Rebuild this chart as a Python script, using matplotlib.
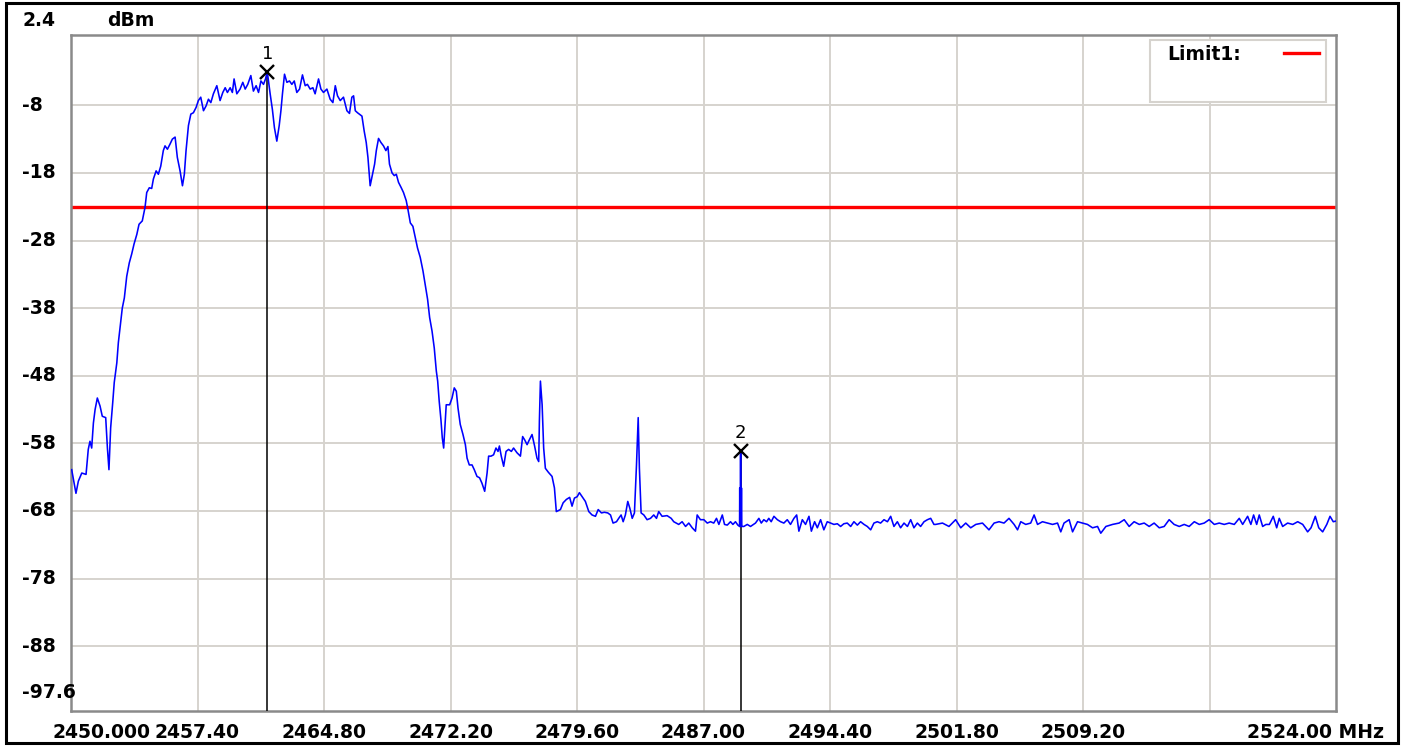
import matplotlib
matplotlib.use("Agg")
import matplotlib.pyplot as plt
import matplotlib.transforms as mtransforms
from matplotlib.patches import Rectangle
from matplotlib.lines import Line2D

# ---- sweep data: frequency (MHz) and level (dBm) ----
lobe_mhz = [
    2450.04, 2450.29, 2450.43, 2450.63, 2450.88, 2451.01, 2451.11, 2451.21, 2451.31, 2451.41,
    2451.54, 2451.70, 2451.83, 2452.03, 2452.13, 2452.22, 2452.32, 2452.44, 2452.53, 2452.68,
    2452.77, 2452.87, 2453.00, 2453.12, 2453.26, 2453.41, 2453.55, 2453.69, 2453.85, 2453.98,
    2454.17, 2454.33, 2454.43, 2454.58, 2454.72, 2454.82, 2454.98, 2455.11, 2455.25, 2455.40,
    2455.50, 2455.64, 2455.80, 2455.93, 2456.09, 2456.22, 2456.38, 2456.52, 2456.63, 2456.73,
    2456.87, 2457.01, 2457.16, 2457.32, 2457.45, 2457.59, 2457.75, 2457.90, 2458.04, 2458.18,
    2458.33, 2458.53, 2458.72, 2458.88, 2459.02, 2459.15, 2459.31, 2459.44, 2459.54, 2459.70,
    2459.89, 2460.05, 2460.19, 2460.34, 2460.52, 2460.67, 2460.83, 2460.97, 2461.11, 2461.26,
    2461.38, 2461.48, 2461.65, 2461.78, 2461.90, 2462.04, 2462.18, 2462.28, 2462.37, 2462.49,
    2462.63, 2462.78, 2462.92, 2463.06, 2463.21, 2463.37, 2463.54, 2463.70, 2463.83, 2463.99,
    2464.15, 2464.28, 2464.48, 2464.62, 2464.77, 2464.97, 2465.16, 2465.32, 2465.46, 2465.59,
    2465.75, 2465.94, 2466.14, 2466.29, 2466.43, 2466.53, 2466.63, 2466.76, 2467.02, 2467.15,
    2467.27, 2467.37, 2467.50, 2467.64, 2467.76, 2467.86, 2467.99, 2468.13, 2468.28, 2468.42,
    2468.54, 2468.63, 2468.78, 2468.91, 2469.03, 2469.16, 2469.32, 2469.45, 2469.61, 2469.71,
    2469.85, 2470.00, 2470.14, 2470.27, 2470.43, 2470.59, 2470.72, 2470.86, 2470.98, 2471.12,
    2471.25, 2471.37, 2471.45, 2471.54, 2471.64, 2471.72, 2471.80, 2471.88, 2471.95, 2472.15,
    2472.29, 2472.42, 2472.54, 2472.64, 2472.77, 2472.93, 2473.07, 2473.17, 2473.30, 2473.46,
    2473.59, 2473.75, 2473.90, 2474.04, 2474.20, 2474.34, 2474.43, 2474.57, 2474.72, 2474.86,
    2474.98, 2475.06, 2475.17, 2475.31, 2475.45, 2475.60, 2475.76, 2475.89, 2476.09, 2476.29,
    2476.42, 2476.54, 2476.68, 2476.81, 2476.97, 2477.12, 2477.26, 2477.36, 2477.40, 2477.46,
    2477.56, 2477.65, 2477.75, 2477.93, 2478.14, 2478.28, 2478.39,
]
lobe_dbm = [
    -61.9, -65.4, -63.6, -62.4, -62.6, -58.9, -57.7, -58.7, -55.0, -53.0,
    -51.3, -52.5, -54.0, -54.2, -58.7, -61.9, -55.7, -52.0, -49.0, -46.1,
    -43.1, -40.9, -38.0, -36.5, -33.3, -31.3, -30.0, -28.5, -27.1, -25.6,
    -25.1, -23.1, -20.9, -20.2, -20.3, -18.9, -17.7, -18.2, -17.0, -14.7,
    -14.0, -14.5, -13.7, -13.0, -12.7, -15.7, -17.7, -19.9, -18.2, -14.7,
    -11.0, -9.3, -9.1, -8.3, -7.3, -6.8, -8.8, -8.1, -7.1, -7.6,
    -6.3, -5.1, -7.3, -6.1, -5.4, -6.1, -5.4, -6.1, -4.1, -6.3,
    -5.6, -4.6, -5.6, -4.9, -3.6, -5.9, -5.1, -6.1, -4.4, -4.9,
    -4.1, -3.0, -6.3, -8.6, -11.3, -13.3, -11.0, -8.8, -6.3, -3.4,
    -4.6, -4.4, -4.9, -4.4, -6.1, -5.6, -3.5, -5.1, -4.9, -5.6,
    -5.4, -6.3, -4.1, -5.6, -6.1, -5.6, -7.1, -7.6, -5.1, -6.6,
    -7.3, -6.8, -8.8, -9.2, -6.8, -6.6, -8.8, -9.1, -9.6, -11.8,
    -13.5, -15.7, -19.9, -18.2, -16.7, -14.7, -12.9, -13.5, -14.0, -14.7,
    -14.1, -16.7, -18.0, -18.4, -18.2, -19.4, -20.2, -20.9, -22.1, -23.4,
    -25.4, -25.9, -27.6, -29.1, -30.5, -32.5, -34.5, -36.7, -39.4, -41.4,
    -43.9, -47.3, -48.8, -51.8, -54.5, -57.2, -58.7, -55.2, -52.3, -52.3,
    -51.3, -49.8, -50.3, -52.8, -55.2, -56.7, -58.2, -60.2, -61.2, -61.2,
    -61.9, -62.9, -63.1, -63.9, -65.1, -62.4, -59.9, -59.9, -59.7, -58.7,
    -59.2, -58.4, -59.9, -61.4, -59.2, -58.9, -59.2, -58.7, -59.4, -59.9,
    -57.0, -57.5, -58.2, -57.5, -56.7, -58.4, -60.2, -60.7, -54.7, -48.8,
    -52.3, -58.7, -61.7, -62.3, -62.9, -64.6, -68.1,
]
floor_mhz = [
    2478.63, 2478.79, 2478.98, 2479.17, 2479.31, 2479.45, 2479.61, 2479.74, 2479.90, 2480.09,
    2480.29, 2480.48, 2480.68, 2480.84, 2481.03, 2481.20, 2481.40, 2481.56, 2481.71, 2481.91,
    2482.04, 2482.18, 2482.30, 2482.43, 2482.57, 2482.69, 2482.83, 2482.96, 2483.08, 2483.18,
    2483.25, 2483.35, 2483.51, 2483.70, 2483.90, 2484.09, 2484.25, 2484.38, 2484.58, 2484.87,
    2485.11, 2485.26, 2485.55, 2485.75, 2485.95, 2486.14, 2486.34, 2486.53, 2486.63, 2486.82,
    2487.02, 2487.22, 2487.41, 2487.60, 2487.76, 2487.90, 2488.10, 2488.23, 2488.39, 2488.58,
    2488.72, 2488.87, 2489.01,
    2489.11, 2489.12, 2489.13, 2489.14, 2489.15, 2489.16, 2489.17, 2489.18, 2489.19, 2489.20,
    2489.21, 2489.22, 2489.23,
    2489.36, 2489.56, 2489.75, 2490.04, 2490.24, 2490.38, 2490.53, 2490.69,
    2490.82, 2490.96, 2491.12, 2491.32, 2491.51, 2491.70, 2491.90, 2492.09, 2492.29, 2492.45,
    2492.58, 2492.78, 2492.97, 2493.17, 2493.31, 2493.50, 2493.66, 2493.85, 2494.04, 2494.24,
    2494.44, 2494.63, 2494.83, 2495.02, 2495.21, 2495.41, 2495.61, 2495.80, 2496.00, 2496.19,
    2496.39, 2496.58, 2496.78, 2496.97, 2497.17, 2497.36, 2497.56, 2497.76, 2497.95, 2498.14,
    2498.34, 2498.53, 2498.73, 2498.93, 2499.12, 2499.31, 2499.51, 2499.70, 2499.90, 2500.10,
    2500.29, 2500.48, 2500.58, 2500.98, 2501.36, 2501.75, 2502.05, 2502.34, 2502.63, 2502.93,
    2503.32, 2503.70, 2504.00, 2504.29, 2504.58, 2504.87, 2505.17, 2505.37, 2505.56, 2505.85,
    2506.14, 2506.34, 2506.54, 2506.83, 2507.12, 2507.42, 2507.71, 2507.90, 2508.09, 2508.39,
    2508.59, 2508.88, 2509.17, 2509.46, 2509.76, 2510.05, 2510.24, 2510.54, 2510.93, 2511.31,
    2511.61, 2511.90, 2512.19, 2512.49, 2512.78, 2513.07, 2513.36, 2513.66, 2513.95, 2514.24,
    2514.53, 2514.83, 2515.12, 2515.41, 2515.71, 2516.00, 2516.29, 2516.58, 2516.88, 2517.17,
    2517.46, 2517.75, 2518.05, 2518.34, 2518.54, 2518.83, 2519.02, 2519.18, 2519.36, 2519.51,
    2519.71, 2519.90, 2520.10, 2520.33, 2520.53, 2520.68, 2520.88, 2521.17, 2521.47, 2521.76,
    2522.05, 2522.34, 2522.54, 2522.79, 2522.99, 2523.22, 2523.46, 2523.65, 2523.84, 2524.00,
]
floor_dbm = [
    -67.8, -66.8, -66.3, -66.0, -67.3, -66.1, -65.9, -65.3, -65.9, -66.6,
    -68.1, -68.6, -68.8, -67.8, -68.3, -68.2, -68.3, -68.6, -69.8, -69.6,
    -69.1, -68.6, -69.6, -68.6, -66.6, -67.6, -69.1, -68.3, -61.2, -54.2,
    -61.7, -68.3, -68.6, -69.3, -69.1, -68.6, -69.1, -68.1, -68.8, -68.7,
    -69.1, -69.6, -70.0, -69.6, -70.3, -69.8, -70.5, -71.0, -68.6, -69.3,
    -69.3, -69.8, -69.6, -69.8, -69.1, -70.0, -68.6, -70.0, -70.1, -69.6,
    -70.0, -69.6, -70.1,
    -70.3, -64.6, -70.3, -64.6, -70.0, -64.6, -59.1, -64.6, -70.2, -64.6,
    -70.3, -64.6, -70.3,
    -70.3, -70.0, -70.3, -69.8, -69.1, -69.8, -69.3, -69.6,
    -69.1, -69.6, -68.8, -69.3, -69.6, -69.8, -69.3, -70.0, -69.1, -68.6,
    -71.0, -69.3, -70.0, -68.8, -71.0, -69.6, -70.5, -69.3, -70.8, -69.6,
    -69.8, -70.0, -69.9, -70.3, -69.9, -69.8, -70.3, -69.6, -70.1, -69.6,
    -70.0, -70.3, -70.8, -69.8, -69.6, -69.8, -69.3, -69.6, -68.8, -70.3,
    -69.6, -70.5, -69.8, -70.3, -69.3, -70.5, -69.8, -70.3, -69.6, -69.3,
    -69.1, -70.0, -70.0, -69.8, -70.3, -69.3, -70.5, -69.8, -70.5, -70.0,
    -69.8, -70.8, -69.8, -69.6, -69.8, -69.1, -70.0, -70.8, -69.6, -70.0,
    -69.8, -68.6, -70.0, -69.6, -69.8, -70.0, -69.8, -71.1, -69.8, -69.3,
    -71.1, -69.6, -69.8, -70.0, -70.5, -70.3, -71.3, -70.3, -70.0, -69.8,
    -69.3, -70.3, -69.6, -70.0, -69.8, -70.3, -69.8, -70.5, -70.3, -69.3,
    -70.0, -70.3, -70.0, -70.3, -69.6, -70.0, -69.8, -69.3, -70.0, -69.8,
    -70.0, -69.8, -70.0, -69.1, -70.0, -68.8, -70.0, -68.6, -70.0, -68.6,
    -70.3, -70.0, -70.0, -68.8, -70.5, -69.1, -70.3, -69.8, -70.0, -69.6,
    -70.0, -71.1, -70.5, -68.8, -70.5, -71.1, -70.0, -68.8, -69.6, -69.5,
]

# markers and limit
marker_ids = ["1", "2"]
marker_mhz = [2461.48, 2489.17]
marker_dbm = [-3.0, -59.1]
limit_dbm = -23.0
limit_name = "Limit1:"

# axis scale and labels
f_start, f_stop = 2450.0, 2524.0
ref_top, ref_bottom = 2.4, -97.6
x_grid = [2457.4, 2464.8, 2472.2, 2479.6, 2487.0, 2494.4, 2501.8, 2509.2, 2516.6]
x_labels = ["2457.40", "2464.80", "2472.20", "2479.60", "2487.00", "2494.40",
            "2501.80", "2509.20", ""]
first_label = "2450.000"
last_label = "2524.00 MHz"
y_grid = [-8, -18, -28, -38, -48, -58, -68, -78, -88]
y_labels = ["-8", "-18", "-28", "-38", "-48", "-58", "-68", "-78", "-88"]
unit_label = "dBm"

W, H = 1401, 747
fig = plt.figure(figsize=(W / 100, H / 100), dpi=100, facecolor="white")


def fx(p):
    return p / W


def fy(p):
    return 1 - p / H


ax = fig.add_axes([fx(71), fy(711), fx(1336) - fx(71), fy(35) - fy(711)])
ax.set_xlim(f_start, f_stop)
ax.set_ylim(ref_bottom, ref_top)
ax.set_facecolor("white")
ax.set_xticks(x_grid)
ax.set_yticks(y_grid)
ax.tick_params(length=0, labelbottom=False, labelleft=False)
ax.grid(True, color="#d6d3ce", lw=1.4)
ax.set_axisbelow(True)
for sp in ax.spines.values():
    sp.set_color("#8a8a8a")
    sp.set_linewidth(1.8)

freq = lobe_mhz + floor_mhz
level = lobe_dbm + floor_dbm

ax.axhline(limit_dbm, color="#ff0000", lw=2.4, zorder=2.4)
ax.vlines(marker_mhz, ref_bottom, marker_dbm, color="black", lw=1.1, zorder=2.6)
ax.plot(freq, level, color="#0000ff", lw=1.15, zorder=3)
ax.plot(marker_mhz, marker_dbm, "x", ms=10, mew=1.7, color="black", zorder=4)
for mid, mf, md in zip(marker_ids, marker_mhz, marker_dbm):
    ax.annotate(mid, (mf, md), xytext=(0, 12.5), textcoords="offset points",
                ha="center", va="center", fontsize=13, color="black", zorder=5)

bold = dict(fontsize=13.5, fontweight="bold", family="DejaVu Sans", color="black")

# y labels, left-aligned in the margin
ytrans = mtransforms.blended_transform_factory(fig.transFigure, ax.transData)
for v, s in zip(y_grid, y_labels):
    fig.text(fx(22), v, s, transform=ytrans, ha="left", va="center", **bold)
fig.text(fx(22), fy(21), f"{ref_top:g}", ha="left", va="center", **bold)
fig.text(fx(107), fy(21), unit_label, ha="left", va="center", **bold)
fig.text(fx(22), fy(693), f"{ref_bottom:g}", ha="left", va="center", **bold)

# x labels under the grid lines
xtrans = mtransforms.blended_transform_factory(ax.transData, fig.transFigure)
for v, s in zip(x_grid, x_labels):
    if s:
        fig.text(v, fy(732), s, transform=xtrans, ha="center", va="center", **bold)
fig.text(fx(53), fy(732), first_label, ha="left", va="center", **bold)
fig.text(fx(1384), fy(732), last_label, ha="right", va="center", **bold)

# legend box
fig.patches.append(Rectangle((fx(1150), fy(102)), fx(1326) - fx(1150), fy(40) - fy(102),
                             transform=fig.transFigure, facecolor="white",
                             edgecolor="#d6d3ce", lw=1.5, zorder=5))
fig.text(fx(1167), fy(55), limit_name, ha="left", va="center", zorder=6, **bold)
fig.lines.append(Line2D([fx(1284), fx(1319)], [fy(53), fy(53)], transform=fig.transFigure,
                        color="#ff0000", lw=2.4, zorder=6))

# outer frame
fig.patches.append(Rectangle((fx(6), fy(743)), fx(1398) - fx(6), fy(3) - fy(743),
                             transform=fig.transFigure, fill=False,
                             edgecolor="black", lw=2.2, zorder=10))

fig.savefig("out.png", dpi=100, facecolor="white")
